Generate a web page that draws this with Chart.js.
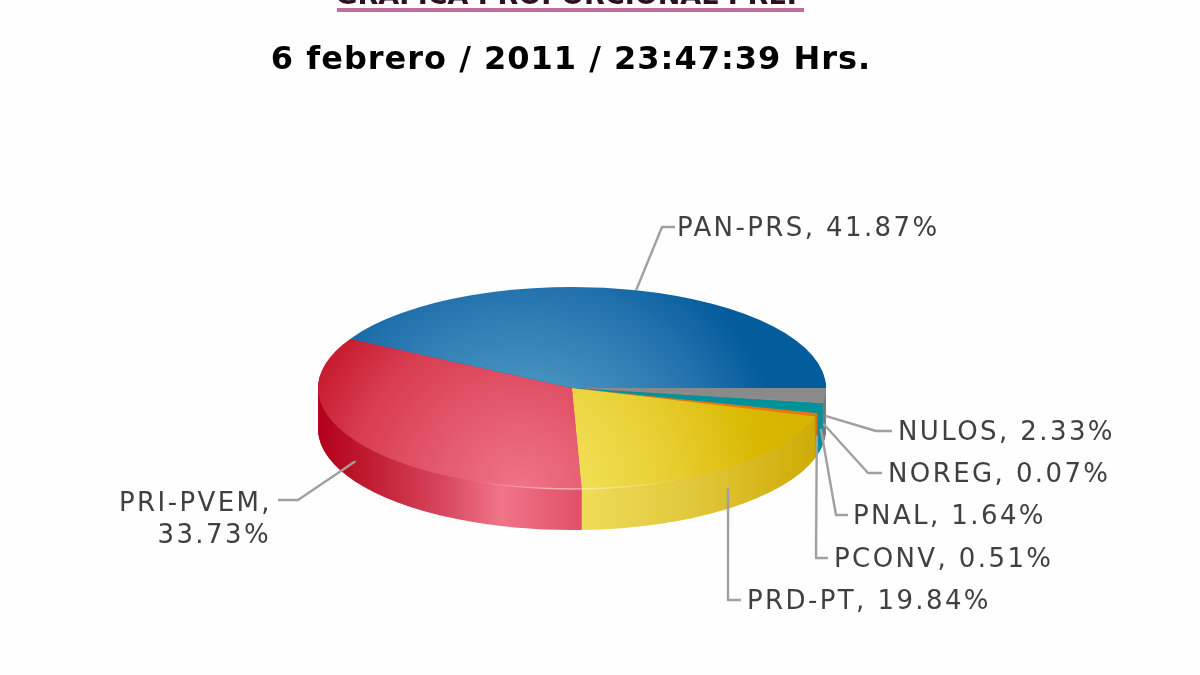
<!DOCTYPE html>
<html>
<head>
<meta charset="utf-8">
<title>Votos</title>
<script src="https://cdn.jsdelivr.net/npm/chart.js@4/dist/chart.umd.js"></script>
<style>
  html, body { margin: 0; padding: 0; background: #fefefe; }
  #pie { display: block; }
</style>
</head>
<body>
<canvas id="pie" width="1200" height="675"></canvas>
<script>
// clockwise from 3 o'clock
const parties = ['NULOS', 'NOREG', 'PNAL', 'PCONV', 'PRD-PT', 'PRI-PVEM', 'PAN-PRS'];
const votes = [2.33, 0.07, 1.64, 0.51, 19.84, 33.73, 41.87];
const headline = 'GRÁFICA PROPORCIONAL PREP';
const stamp = '6 febrero / 2011 / 23:47:39 Hrs.';

const squash = 101 / 254;
const depth = 41;
const labelFont = '26px "DejaVu Sans"';
const labelColor = '#404040';
const leaderColor = '#a0a0a0';

// where each callout goes: knee of the leader, end of the leader, then the text
const callouts = {
    'NULOS': {knee: [876, 431], end: [892, 431], text: [['NULOS, 2.33%', 898, 433]]},
    'NOREG': {knee: [868, 473], end: [882, 473], text: [['NOREG, 0.07%', 888, 475]]},
    'PNAL': {knee: [836, 515], end: [848, 515], text: [['PNAL, 1.64%', 853, 517]]},
    'PCONV': {knee: [816, 558], end: [828, 558], text: [['PCONV, 0.51%', 834, 560]]},
    'PRD-PT': {knee: [728, 600], end: [741, 600], text: [['PRD-PT, 19.84%', 747, 602]]},
    'PRI-PVEM': {knee: [298, 500], end: [278, 500], right: true, text: [['PRI-PVEM,', 272, 504], ['33.73%', 271, 536]]},
    'PAN-PRS': {knee: [662, 227], end: [675, 227], back: true, text: [['PAN-PRS, 41.87%', 677, 229]]}
};

const canvas = document.getElementById('pie');
const ctx = canvas.getContext('2d');

// top face shading is a circle on screen, so it goes on a pattern that undoes the squash
function topShade(stops) {
    const off = document.createElement('canvas');
    off.width = 1200;
    off.height = 675;
    const c = off.getContext('2d');
    const g = c.createRadialGradient(520, 490, 0, 520, 490, 270);
    stops.forEach(s => g.addColorStop(s[0], s[1]));
    c.fillStyle = g;
    c.fillRect(0, 0, 1200, 675);
    const p = ctx.createPattern(off, 'no-repeat');
    p.setTransform(new DOMMatrix().translate(0, 388).scale(1, 1 / squash).translate(0, -388));
    return p;
}

function sideShade(stops) {
    const g = ctx.createLinearGradient(318, 0, 826, 0);
    stops.forEach(s => g.addColorStop(s[0], s[1]));
    return g;
}

const topColors = [
    '#8a8a8a',
    '#c9a0a0',
    '#00929a',
    '#e8780c',
    topShade([[0, '#f2de58'], [0.27, '#f0dc50'], [0.6, '#e6cc2c'], [0.9, '#d8b800'], [1, '#d6b400']]),
    topShade([[0, '#f07488'], [0.37, '#e25468'], [0.63, '#d83c50'], [0.85, '#c81c30'], [1, '#c41428']]),
    topShade([[0, '#4a98c4'], [0.42, '#4490be'], [0.78, '#2070ac'], [1, '#035c9c']])
];

const sideColors = [
    '#7a7a7a',
    '#a08080',
    '#0a9098',
    '#d8720c',
    sideShade([[0, '#f0dc58'], [0.52, '#f0dc58'], [0.75, '#e0c638'], [1, '#cca800']]),
    sideShade([[0, '#b4001a'], [0.1, '#c01c30'], [0.25, '#d84860'], [0.36, '#f07488'], [0.52, '#e05068'], [1, '#e05068']]),
    sideShade([[0, '#035c9c'], [1, '#035c9c']])
];

const pie3d = {
    id: 'pie3d',
    beforeDatasetsDraw(chart) {
        const c = chart.ctx;
        const arcs = chart.getDatasetMeta(0).data;
        const cy = arcs[0].y;
        c.save();
        c.translate(0, cy);
        c.scale(1, squash);
        c.translate(0, -cy);
        // wall: the same arcs again, stacked from the bottom up
        for (let d = depth; d > 0; d--) {
            c.save();
            c.translate(0, d / squash);
            arcs.forEach((arc, i) => {
                const keep = arc.options;
                arc.options = Object.assign({}, keep, {backgroundColor: sideColors[i]});
                arc.draw(c);
                arc.options = keep;
            });
            c.restore();
        }
    },
    afterDatasetsDraw(chart) {
        const c = chart.ctx;
        c.restore();
        const arcs = chart.getDatasetMeta(0).data;
        const {x, y, outerRadius} = arcs[0];

        // pale rim along the front edge
        const rim = c.createLinearGradient(470, 0, 700, 0);
        rim.addColorStop(0, 'rgba(255,255,255,0)');
        rim.addColorStop(0.4, 'rgba(255,255,255,0.5)');
        rim.addColorStop(1, 'rgba(255,255,255,0)');
        c.save();
        c.strokeStyle = rim;
        c.lineWidth = 1.5;
        c.beginPath();
        c.ellipse(x, y, outerRadius, outerRadius * squash, 0, 0.5, 2.4);
        c.stroke();
        c.restore();

        // callouts, leaders start on the rim at each slice's middle angle
        c.save();
        c.font = labelFont;
        c.letterSpacing = '2.4px';
        c.fillStyle = labelColor;
        c.textBaseline = 'middle';
        c.lineJoin = 'round';
        arcs.forEach((arc, i) => {
            const call = callouts[parties[i]];
            const mid = (arc.startAngle + arc.endAngle) / 2;
            const sx = x + Math.cos(mid) * outerRadius;
            const sy = y + Math.sin(mid) * outerRadius * squash + (call.back ? 0 : depth / 2);
            c.strokeStyle = leaderColor;
            c.lineWidth = 2.4;
            c.beginPath();
            c.moveTo(sx, sy);
            c.lineTo(call.knee[0], call.knee[1]);
            c.lineTo(call.end[0], call.end[1]);
            c.stroke();
            c.textAlign = call.right ? 'right' : 'left';
            call.text.forEach(t => c.fillText(t[0], t[1], t[2]));
        });
        c.restore();

        // heading, cut by the top of the page like the screenshot
        c.save();
        c.textAlign = 'center';
        c.textBaseline = 'alphabetic';
        c.fillStyle = '#2a1020';
        c.font = 'bold 27px "DejaVu Sans"';
        c.fillText(headline, 571, 4);
        c.fillStyle = '#bf6c9f';
        c.fillRect(337, 8, 467, 4);
        c.fillStyle = '#000';
        c.font = 'bold 32px "DejaVu Sans"';
        c.letterSpacing = '1px';
        c.fillText(stamp, 571, 69);
        c.restore();
    }
};

new Chart(ctx, {
    type: 'pie',
    data: {
        labels: parties,
        datasets: [{
            data: votes,
            backgroundColor: topColors,
            borderWidth: 0
        }]
    },
    options: {
        responsive: false,
        devicePixelRatio: 1,
        animation: false,
        rotation: 90,
        layout: {padding: {left: 318, right: 374, top: 134, bottom: 33}},
        plugins: {
            legend: {display: false},
            tooltip: {enabled: false}
        }
    },
    plugins: [pie3d]
});
</script>
</body>
</html>
